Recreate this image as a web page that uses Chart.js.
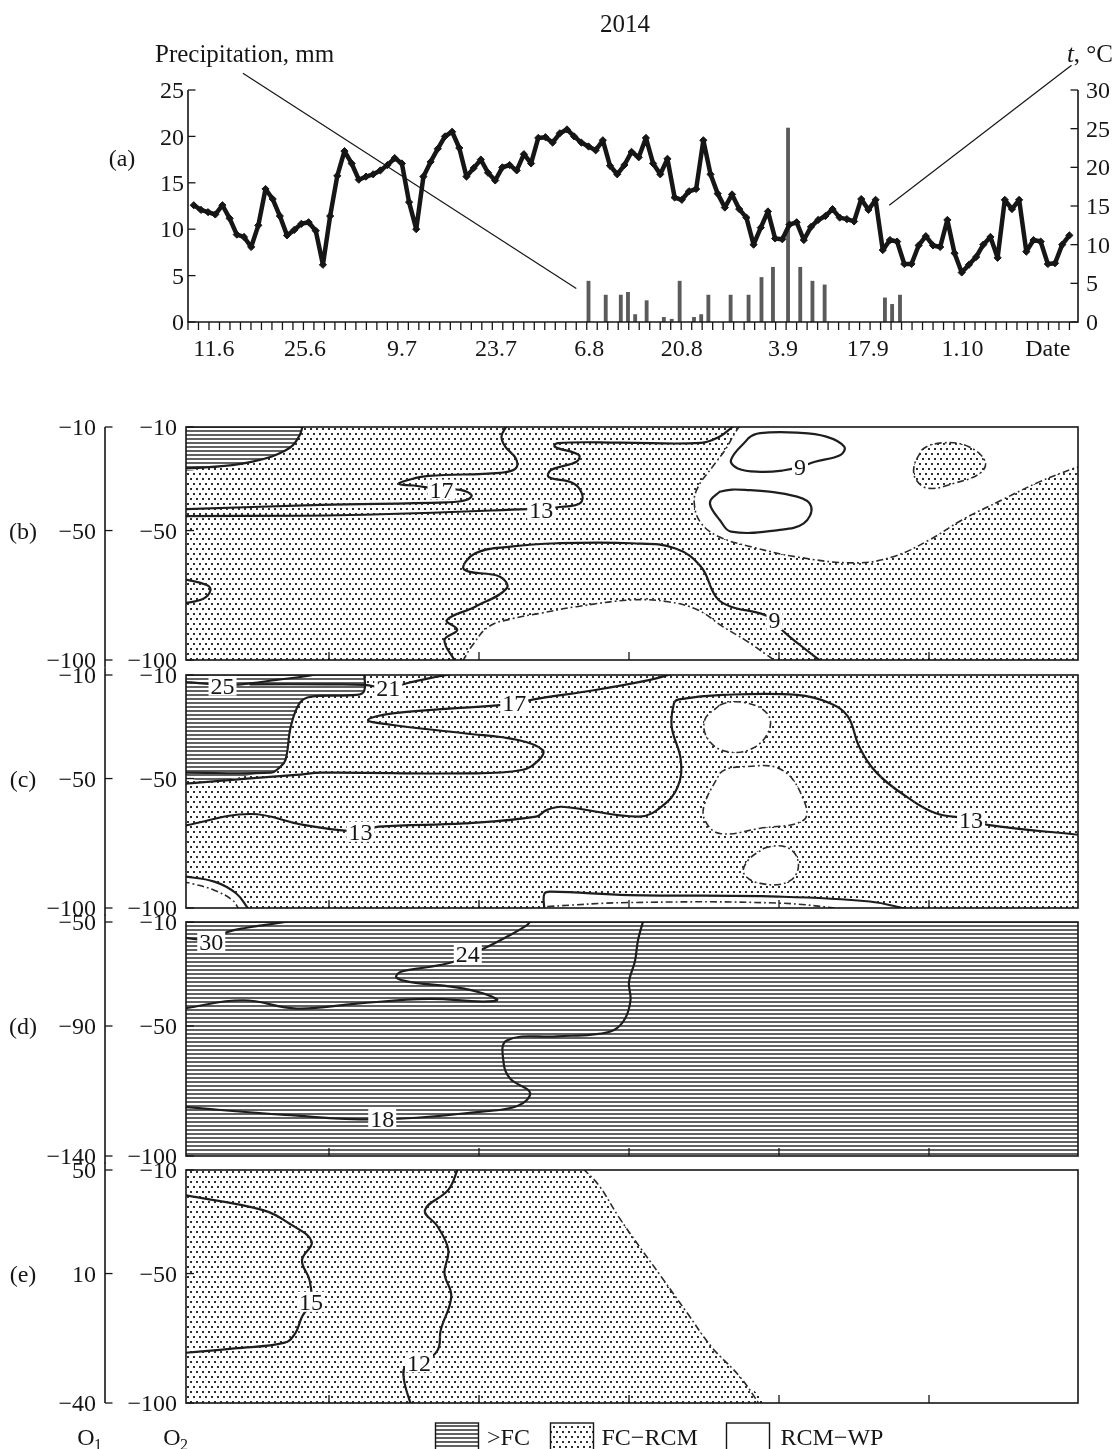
<!DOCTYPE html>
<html>
<head>
<meta charset="utf-8">
<title>2014</title>
<script src="https://cdn.jsdelivr.net/npm/chart.js@4.4.1/dist/chart.umd.min.js"></script>
<style>
  html, body { margin:0; padding:0; background:#ffffff; }
  body { width:1115px; height:1449px; position:relative; overflow:hidden; }
  canvas { position:absolute; left:0; }
</style>
</head>
<body>
<canvas id="chartA" width="1115" height="372" style="top:0px"></canvas>
<canvas id="chartB" width="1115" height="325" style="top:382px"></canvas>
<canvas id="chartC" width="1115" height="325" style="top:630px"></canvas>
<canvas id="chartD" width="1115" height="326" style="top:877px"></canvas>
<canvas id="chartE" width="1115" height="325" style="top:1125px"></canvas>
<script>
// ======================= DATA =======================
// (a) daily air temperature, °C (in order of observation)
const tempC = [
 15.1,14.5,14.2,13.9,15.1,13.4,11.3,11.0,9.7,12.5,
 17.2,15.9,13.7,11.2,11.9,12.7,12.9,11.8,7.4,13.7,
 18.9,22.1,20.5,18.4,18.8,19.1,19.6,20.3,21.2,20.5,
 15.5,12.0,18.8,20.7,22.4,24.0,24.6,22.5,18.8,19.9,
 21.0,19.3,18.3,20.0,20.3,19.6,21.7,20.5,23.8,23.9,
 23.2,24.4,24.9,24.0,23.2,22.7,22.2,23.5,20.2,19.1,
 20.3,22.0,21.3,23.8,20.5,19.1,21.1,16.1,15.8,16.9,
 17.2,23.5,19.1,16.6,14.8,16.5,14.6,13.5,10.0,12.2,
 14.3,10.8,10.7,12.6,12.9,10.6,12.3,13.2,13.7,14.6,
 13.5,13.3,13.0,15.9,14.5,15.8,9.3,10.6,10.4,7.5,
 7.5,9.9,11.1,9.9,9.7,13.2,8.9,6.4,7.4,8.4,
 10.0,11.0,8.3,15.8,14.6,15.8,9.1,10.6,10.4,7.5,
 7.6,10.0,11.2];
// (a) precipitation events: position on the observation axis, amount in mm
const precipPos = [55.0,57.4,59.5,60.5,61.5,63.1,65.5,66.6,67.7,69.7,70.7,71.7,74.8,77.3,79.1,80.7,82.8,84.5,86.2,87.9,96.3,97.3,98.4];
const precipMM  = [4.4,2.9,2.9,3.2,0.8,2.3,0.5,0.3,4.4,0.5,0.8,2.9,2.9,2.9,4.8,5.9,20.9,5.9,4.4,4.0,2.6,1.9,2.9];
const dateLabels   = ['11.6','25.6','9.7','23.7','6.8','20.8','3.9','17.9','1.10','Date'];
const dateLabelPos = [2.8,15.5,29.0,42.1,55.1,68.0,82.1,93.9,107.1,119.0];
const precipTicks = [0,5,10,15,20,25];
const tempTicks   = [0,5,10,15,20,25,30];
// (b)-(e) depth axes
const depthTicks  = [-10,-50,-100];
const outerTicksB = [-10,-50,-100];
const outerTicksC = [-10,-50,-100];
const outerTicksD = [-50,-90,-140];
const outerTicksE = [50,10,-40];
const panelXTicks = [20,40,60,80,100];
const legendLabels = ['>FC','FC\u2212RCM','RCM\u2212WP'];

// ---- panel (b) ----
const b_fc    = [[16.5,-9.5],[16.1,-13.1],[15.2,-17.0],[13.9,-19.5],[12.3,-21.5],[9.8,-23.4],[7.1,-24.7],[3.5,-25.6],[0.5,-26.0]];
const b_iso17 = [[43.7,-9.5],[43.0,-13.7],[43.5,-17.6],[44.9,-22.1],[44.9,-26.0],[42.8,-27.7],[33.3,-28.9],[30.8,-30.3],[29.3,-32.0],[31.3,-32.6],[35.0,-34.0],[37.5,-34.3],[39.0,-36.3],[38.3,-38.2],[35.7,-39.1],[19.0,-40.1],[0.5,-41.8]];
const b_iso13 = [[0.5,-44.4],[22.8,-44.0],[46.5,-41.7],[51.1,-40.8],[53.5,-39.4],[53.7,-35.5],[52.5,-31.6],[49.3,-29.3],[49.6,-26.6],[53.0,-23.4],[53.3,-20.8],[50.1,-17.6],[50.5,-16.2],[58.8,-16.0],[69.6,-16.1],[72.1,-13.7],[73.6,-10.4],[74.0,-9.5]];
const b_bump  = [[0.3,-68.5],[3.7,-71.0],[4.2,-73.0],[3.3,-76.2],[0.3,-78.4]];
const b_iso9  = [[36.8,-100.5],[35.4,-92.3],[37.1,-88.4],[35.7,-84.6],[39.5,-79.4],[43.7,-72.3],[42.8,-67.8],[38.0,-65.0],[39.5,-58.8],[44.2,-56.2],[50.4,-54.9],[60.4,-54.9],[66.2,-56.9],[69.6,-64.0],[71.6,-75.6],[73.6,-79.4],[77.5,-82.0],[79.4,-84.6],[80.4,-88.4],[82.8,-94.2],[85.6,-100.5]];
const b_loopA = [[73.6,-22.7],[75.9,-14.4],[77.5,-12.4],[82.4,-12.2],[86.3,-13.7],[88.7,-17.6],[88.2,-20.8],[84.8,-23.4],[82.8,-25.4],[80.5,-26.8],[77.5,-27.3],[74.5,-26.0]];
const b_loopB = [[70.9,-38.2],[72.1,-35.0],[75.5,-34.3],[82.4,-36.9],[84.3,-40.8],[83.3,-47.2],[79.9,-49.8],[73.6,-50.4],[72.1,-45.9],[70.9,-40.8]];
const b_ddTop = [[74.8,-9.5],[74.2,-12.0],[72.8,-18.9],[71.1,-25.5],[69.2,-33.2],[68.7,-39.4],[69.6,-47.1],[72.1,-52.5],[76.5,-56.4],[82.4,-60.2],[90.1,-62.5],[95.1,-60.2],[100.0,-53.7],[104.4,-45.9],[109.7,-38.2],[114.7,-31.2],[119.1,-26.2],[120.5,-25.0]];
const b_blob  = [[98.0,-25.3],[99.0,-18.9],[101.9,-16.1],[105.3,-17.6],[107.5,-23.4],[106.8,-27.9],[103.4,-31.7],[100.0,-33.7],[98.3,-30.5]];
const b_ddBot = [[37.8,-100.5],[39.2,-94.0],[41.3,-87.1],[44.5,-84.0],[48.1,-82.0],[53.0,-79.4],[60.4,-76.8],[65.2,-77.5],[69.2,-80.7],[72.5,-87.1],[75.5,-92.3],[78.4,-98.1],[79.6,-100.5]];
const b_labels = [['17',35.0,-34.2],['13',48.3,-42.0],['9',82.8,-25.4],['9',79.4,-84.6]];

// ---- panel (c) ----
const c_fc    = [[24.7,-9.5],[24.7,-16.0],[23.7,-17.7],[17.6,-18.4],[16.1,-20.8],[14.9,-30.0],[14.2,-42.8],[13.3,-46.0],[12.3,-47.7],[0.5,-47.7]];
const c_iso25 = [[0.5,-12.6],[3.5,-13.3],[7.1,-13.8],[9.5,-13.2],[13.0,-11.9],[17.1,-10.4],[18.5,-9.5]];
const c_iso21 = [[9.5,-13.6],[20.0,-13.6],[24.7,-13.8],[27.8,-15.0],[30.5,-13.1],[33.3,-11.3],[36.5,-9.5]];
const c_iso17 = [[65.8,-9.5],[62.8,-11.9],[55.5,-15.8],[48.1,-19.0],[44.7,-20.9],[42.8,-21.6],[28.5,-24.8],[25.2,-27.4],[28.5,-29.3],[38.0,-32.5],[45.2,-35.1],[48.5,-39.0],[48.0,-42.8],[45.7,-46.7],[38.0,-48.0],[19.0,-47.7],[15.6,-48.6],[9.5,-49.9],[0.5,-52.1]];
const c_iso13 = [[0.5,-68.3],[9.5,-63.7],[16.6,-67.9],[24.2,-70.5],[26.6,-68.6],[38.0,-67.3],[47.6,-64.7],[49.0,-62.2],[51.1,-60.9],[61.3,-64.7],[64.3,-60.9],[66.5,-53.2],[66.9,-42.8],[65.7,-30.0],[66.0,-20.9],[66.7,-19.4],[72.5,-17.7],[82.4,-17.7],[86.8,-20.9],[89.2,-26.1],[90.7,-37.7],[93.1,-48.0],[97.0,-57.0],[100.9,-63.4],[105.6,-65.6],[107.8,-67.9],[120.5,-71.9]];
const c_blob1 = [[70.1,-27.4],[72.1,-21.6],[75.5,-20.7],[78.4,-24.8],[78.7,-31.2],[76.5,-38.3],[73.1,-39.6],[70.6,-35.1]];
const c_blob2 = [[70.1,-59.6],[72.1,-48.0],[75.5,-45.4],[80.4,-46.7],[83.3,-58.3],[83.3,-66.0],[77.5,-69.2],[72.1,-71.2],[70.1,-66.0]];
const c_blob3 = [[75.9,-81.5],[78.0,-76.9],[81.3,-76.9],[82.6,-83.4],[81.3,-89.8],[77.5,-90.5],[75.3,-86.6]];
const c_botLine = [[48.7,-100.5],[48.7,-94.6],[49.5,-93.7],[59.9,-95.0],[79.9,-95.6],[92.1,-97.5],[97.2,-100.5]];
const c_botDD   = [[49.1,-99.4],[59.9,-97.9],[79.9,-98.1],[89.2,-100.5]];
const c_blLine  = [[0.5,-87.7],[4.7,-89.8],[7.6,-94.3],[9.3,-100.5]];
const c_blDD    = [[0.5,-89.9],[1.9,-90.7],[4.7,-93.1],[7.1,-96.9],[8.0,-100.5]];
const c_labels = [['25',5.8,-14.1],['21',27.9,-15.0],['17',44.7,-20.9],['13',24.2,-70.5],['13',105.6,-65.8]];

// ---- panel (d) ----
const d_iso30 = [[0.5,-16.0],[4.3,-16.8],[6.5,-13.8],[9.0,-12.2],[11.1,-11.3],[13.5,-10.3],[15.0,-9.5]];
const d_iso24 = [[46.9,-9.5],[46.4,-11.2],[43.7,-15.7],[40.4,-20.5],[38.5,-22.1],[36.6,-25.3],[33.3,-27.3],[29.5,-29.2],[29.0,-31.4],[30.9,-33.1],[38.0,-35.6],[42.4,-39.8],[40.5,-40.6],[33.3,-39.6],[23.7,-41.4],[15.7,-43.3],[8.5,-40.1],[0.5,-43.3]];
const d_iso18 = [[0.5,-81.1],[14.2,-84.2],[27.1,-85.9],[40.4,-82.9],[45.2,-80.7],[46.8,-75.6],[44.2,-70.4],[43.3,-64.6],[43.7,-55.6],[50.4,-54.0],[55.0,-53.3],[58.0,-51.5],[59.5,-47.0],[60.2,-40.0],[60.0,-33.0],[60.8,-25.0],[61.2,-17.0],[61.9,-9.5]];
const d_labels = [['30',4.3,-17.5],['24',38.5,-22.3],['18',27.1,-85.8]];

// ---- panel (e) ----
const e_dd    = [[53.9,-9.5],[56.0,-16.0],[58.6,-28.0],[61.5,-40.0],[64.3,-51.2],[67.7,-65.0],[71.0,-78.3],[74.8,-89.9],[77.4,-100.5]];
const e_iso15 = [[0.5,-19.6],[11.2,-25.5],[15.0,-31.2],[17.7,-37.7],[16.4,-44.8],[17.4,-52.5],[17.6,-60.9],[16.4,-66.7],[15.5,-73.1],[14.1,-76.7],[7.4,-78.9],[0.5,-80.7]];
const e_iso12 = [[37.2,-9.5],[35.9,-17.7],[32.8,-25.5],[34.5,-31.9],[35.9,-40.9],[35.4,-49.9],[36.3,-58.9],[34.9,-71.8],[34.5,-79.5],[32.5,-84.1],[30.2,-86.0],[30.0,-91.1],[30.9,-100.5]];
const e_labels = [['15',17.6,-60.9],['12',32.0,-84.3]];

// ======================= STYLE / HELPERS =======================
const INK = '#161616';
const FONT = "'Liberation Serif','Times New Roman','DejaVu Serif',serif";
const PX_MIN = 0.933, PX_MAX = 119.867;         // panel x range
const OUT = { TL:[-6,0], TR:[126,0], BL:[-6,-110], BR:[126,-110] }; // closing points outside the frame
const dateTickStep = 1.462;

const hatchTile = (() => { const c = document.createElement('canvas'); c.width = 8; c.height = 4;
  const g = c.getContext('2d'); g.fillStyle = '#fff'; g.fillRect(0,0,8,4); g.fillStyle = '#626262'; g.fillRect(0,0,8,2); return c; })();
const dotTile = (() => { const c = document.createElement('canvas'); c.width = 6; c.height = 10;
  const g = c.getContext('2d'); g.fillStyle = '#fff'; g.fillRect(0,0,6,10); g.fillStyle = '#2e2e2e';
  g.fillRect(1,1,2,2); g.fillRect(4,6,2,2); return c; })();
function pats(canvas) { const ctx = canvas.getContext('2d');
  return { hatch: ctx.createPattern(hatchTile,'repeat'), dots: ctx.createPattern(dotTile,'repeat') }; }

const P = a => a.map(p => ({x:p[0], y:p[1]}));
const closeLoop = a => [...a, a[0], a[1]];
const fmt = v => v < 0 ? '\u2212' + (-v) : String(v);

function lineDS(arr, o) { return Object.assign({ data:P(arr), borderColor:'#1e1e1e', borderWidth:2.2, tension:0.4, fill:false,
  pointRadius:0, order:10, borderCapStyle:'round', borderJoinStyle:'round' }, o || {}); }
function ddDS(arr, o) { return lineDS(arr, Object.assign({ borderDash:[7,3,1.8,3], borderWidth:1.6, borderColor:'#2c2c2c', borderCapStyle:'butt', order:11 }, o || {})); }
function regionDS(arr, bg, order) { return { data:P(arr), backgroundColor:bg, borderWidth:0, fill:'shape', tension:0.4, pointRadius:0, order }; }
const hideFirst = { borderColor: c => c.p0DataIndex === 0 ? 'rgba(0,0,0,0)' : undefined };
function loopDS(arr, o) { return lineDS(closeLoop(arr), Object.assign({ segment: hideFirst }, o || {})); }

function txt(ctx, s, x, y, align, size, style) {
  ctx.font = (style ? style + ' ' : '') + (size || 24) + 'px ' + FONT;
  ctx.textAlign = align || 'left'; ctx.textBaseline = 'alphabetic'; ctx.fillStyle = INK;
  ctx.fillText(s, x, y);
}
function txtMid(ctx, s, x, yMid, align, size) { size = size || 24; txt(ctx, s, x, yMid + size * 0.34, align, size); }
function rich(ctx, parts, x, y, align, size) {
  let w = 0;
  parts.forEach(([t, st]) => { ctx.font = (st ? st + ' ' : '') + size + 'px ' + FONT; w += ctx.measureText(t).width; });
  let cx = align === 'right' ? x - w : (align === 'center' ? x - w / 2 : x);
  parts.forEach(([t, st]) => { txt(ctx, t, cx, y, 'left', size, st); ctx.font = (st ? st + ' ' : '') + size + 'px ' + FONT; cx += ctx.measureText(t).width; });
}
function seg(ctx, x1, y1, x2, y2) { ctx.beginPath(); ctx.moveTo(x1, y1); ctx.lineTo(x2, y2); ctx.stroke(); }

// ======================= (a) =======================
const precipLeader = [[6.85, 26.8], [53.3, 3.6]];
const tempLeader = [[122.3, 33.2], [96.9, 15.1]];
const axesA = {
  id: 'axesA',
  afterDraw(chart) {
    const { ctx, chartArea: a, scales: { x, yP, yT } } = chart;
    ctx.save();
    ctx.strokeStyle = INK; ctx.lineWidth = 1.6;
    ctx.beginPath(); ctx.moveTo(a.left, a.top); ctx.lineTo(a.left, a.bottom); ctx.lineTo(a.right, a.bottom); ctx.lineTo(a.right, a.top); ctx.stroke();
    ctx.lineWidth = 1.3;
    precipTicks.forEach(v => { const py = yP.getPixelForValue(v); seg(ctx, a.left, py, a.left + 7.5, py); txtMid(ctx, String(v), a.left - 4, py, 'right'); });
    tempTicks.forEach(v => { const py = yT.getPixelForValue(v); seg(ctx, a.right - 7.5, py, a.right, py); txtMid(ctx, String(v), a.right + 8, py, 'left'); });
    for (let v = x.min; v <= x.max + 1e-9; v += dateTickStep) { const px = x.getPixelForValue(v); seg(ctx, px, a.bottom, px, a.bottom + 8); }
    dateLabels.forEach((s, i) => txt(ctx, s, x.getPixelForValue(dateLabelPos[i]), 356, 'center', 24));
    // leaders
    ctx.lineWidth = 1.2;
    seg(ctx, x.getPixelForValue(precipLeader[0][0]), yP.getPixelForValue(precipLeader[0][1]), x.getPixelForValue(precipLeader[1][0]), yP.getPixelForValue(precipLeader[1][1]));
    seg(ctx, x.getPixelForValue(tempLeader[0][0]), yT.getPixelForValue(tempLeader[0][1]), x.getPixelForValue(tempLeader[1][0]), yT.getPixelForValue(tempLeader[1][1]));
    txt(ctx, '2014', 625, 32, 'center', 25);
    txt(ctx, 'Precipitation, mm', 155, 62, 'left', 25);
    rich(ctx, [['t', 'italic'], [', \u00b0C', '']], 1113, 62, 'right', 25);
    txtMid(ctx, '(a)', 122, 158, 'center', 24);
    ctx.restore();
  }
};
new Chart(document.getElementById('chartA'), {
  type: 'line',
  data: { datasets: [
    { type: 'line', label: 't, \u00b0C', data: tempC.map((t, i) => ({ x: i, y: t })), yAxisID: 'yT', borderColor: INK, borderWidth: 4.5,
      borderJoinStyle: 'round', pointStyle: 'rectRot', pointRadius: 3.6, pointBackgroundColor: INK, pointBorderColor: INK, pointBorderWidth: 1, tension: 0, order: 0 },
    { type: 'bar', label: 'Precipitation, mm', data: precipPos.map((p, i) => ({ x: p, y: precipMM[i] })), yAxisID: 'yP',
      backgroundColor: '#5b5b5b', barThickness: 3.2, order: 1 }
  ] },
  options: {
    responsive: false, animation: false, devicePixelRatio: 1, events: [],
    layout: { padding: { left: 188, right: 37, top: 90, bottom: 50 } },
    scales: {
      x: { type: 'linear', min: -0.8, max: 123.2, offset: false, display: false },
      yP: { type: 'linear', position: 'left', min: 0, max: 25, display: false },
      yT: { type: 'linear', position: 'right', min: 0, max: 30, display: false }
    },
    plugins: { legend: { display: false }, tooltip: { enabled: false } }
  },
  plugins: [axesA]
});

// ======================= (b)-(e) =======================
const PANELS = {};
const panelDecor = {
  id: 'panelDecor',
  beforeDatasetsDraw(chart) {
    const s = PANELS[chart.canvas.id]; const { ctx, chartArea: a } = chart;
    if (s.base) { ctx.save(); ctx.fillStyle = s.base; ctx.fillRect(a.left, a.top, a.right - a.left, a.bottom - a.top); ctx.restore(); }
  },
  afterDatasetsDraw(chart) {
    const s = PANELS[chart.canvas.id]; const { ctx, chartArea: a, scales: { x, y, yOuter } } = chart;
    ctx.save();
    s.labels.forEach(([t, lx, ly]) => {
      const px = x.getPixelForValue(lx), py = y.getPixelForValue(ly);
      ctx.font = '24px ' + FONT; const w = ctx.measureText(t).width;
      ctx.fillStyle = '#fff'; ctx.fillRect(px - w / 2 - 2, py - 10, w + 4, 20);
      txtMid(ctx, t, px, py, 'center', 24);
    });
    ctx.strokeStyle = INK; ctx.lineWidth = 1.6;
    ctx.strokeRect(a.left, a.top, a.right - a.left, a.bottom - a.top);
    ctx.lineWidth = 1.3;
    panelXTicks.forEach(v => { const px = x.getPixelForValue(v); seg(ctx, px, a.bottom, px, a.bottom - 8); });
    depthTicks.forEach(v => { const py = y.getPixelForValue(v); seg(ctx, a.left, py, a.left + 8, py); txtMid(ctx, fmt(v), a.left - 9, py, 'right'); });
    const top = s.first ? a.top : a.top - 7.5, bot = s.last ? a.bottom : a.bottom + 7.5;
    ctx.lineWidth = 1.6; seg(ctx, 105, top, 105, bot); ctx.lineWidth = 1.3;
    s.outer.forEach(v => { const py = yOuter.getPixelForValue(v); seg(ctx, 105, py, 112.5, py); txtMid(ctx, fmt(v), 96, py, 'right'); });
    txtMid(ctx, s.letter, 23, y.getPixelForValue(-50), 'center', 24);
    if (s.extra) s.extra(ctx, chart);
    ctx.restore();
  }
};
function makePanel(id, spec, datasets, padBottom) {
  PANELS[id] = spec;
  const om = spec.outer;
  return new Chart(document.getElementById(id), {
    type: 'line',
    data: { datasets },
    options: {
      responsive: false, animation: false, devicePixelRatio: 1, events: [],
      layout: { padding: { left: 186, right: 37, top: 45, bottom: padBottom } },
      elements: { line: { capBezierPoints: false }, point: { radius: 0 } },
      scales: {
        x: { type: 'linear', min: PX_MIN, max: PX_MAX, display: false },
        y: { type: 'linear', min: -100, max: -10, display: false },
        yOuter: { type: 'linear', position: 'left', min: Math.min(...om), max: Math.max(...om), display: false }
      },
      plugins: { legend: { display: false }, tooltip: { enabled: false } }
    },
    plugins: [panelDecor]
  });
}

// (b)
(() => {
  const cv = document.getElementById('chartB'); const p = pats(cv);
  makePanel('chartB', { base: p.dots, labels: b_labels, outer: outerTicksB, letter: '(b)', first: true,
    extra(ctx) { rich(ctx, [['h', 'italic'], [', cm', '']], 54, 400, 'left', 25); } }, [
    regionDS([...b_ddTop, OUT.TR], '#ffffff', 60),
    regionDS(b_ddBot, '#ffffff', 60),
    loopDS(b_blob, { fill: 'shape', backgroundColor: p.dots, borderDash: [7,3,1.8,3], borderWidth: 1.6, borderColor: '#2c2c2c', borderCapStyle: 'butt', order: 50 }),
    regionDS([...b_fc, OUT.TL], p.hatch, 40),
    lineDS(b_fc), lineDS(b_iso17), lineDS(b_iso13), lineDS(b_bump), lineDS(b_iso9),
    loopDS(b_loopA), loopDS(b_loopB),
    ddDS(b_ddTop), ddDS(b_ddBot)
  ], 47);
})();

// (c)
(() => {
  const cv = document.getElementById('chartC'); const p = pats(cv);
  const blob = arr => loopDS(arr, { fill: 'shape', backgroundColor: '#ffffff', borderDash: [7,3,1.8,3], borderWidth: 1.6, borderColor: '#2c2c2c', borderCapStyle: 'butt', order: 50 });
  makePanel('chartC', { base: p.dots, labels: c_labels, outer: outerTicksC, letter: '(c)' }, [
    regionDS(c_botLine, '#ffffff', 60),
    regionDS([...c_blLine, OUT.BL], '#ffffff', 60),
    blob(c_blob1), blob(c_blob2), blob(c_blob3),
    regionDS([...c_fc, OUT.TL], p.hatch, 40),
    lineDS(c_fc), lineDS(c_iso25), lineDS(c_iso21), lineDS(c_iso17), lineDS(c_iso13), lineDS(c_botLine), lineDS(c_blLine),
    ddDS(c_botDD), ddDS(c_blDD)
  ], 47);
})();

// (d)
(() => {
  const cv = document.getElementById('chartD'); const p = pats(cv);
  makePanel('chartD', { base: p.hatch, labels: d_labels, outer: outerTicksD, letter: '(d)' }, [
    lineDS(d_iso30), lineDS(d_iso24), lineDS(d_iso18)
  ], 47);
})();

// (e)
(() => {
  const cv = document.getElementById('chartE'); const p = pats(cv);
  makePanel('chartE', { base: null, labels: e_labels, outer: outerTicksE, letter: '(e)', last: true,
    extra(ctx, chart) {
      const a = chart.chartArea; const yb = a.bottom;
      // O1, O2
      txt(ctx, 'O', 86, yb + 42, 'center', 24); txt(ctx, '1', 98, yb + 47, 'center', 16);
      txt(ctx, 'O', 172, yb + 42, 'center', 24); txt(ctx, '2', 184, yb + 47, 'center', 16);
      // legend
      const boxes = [[435.5, p.hatch], [550.5, p.dots], [726.5, '#ffffff']];
      const textX = [487, 601.5, 780.5];
      boxes.forEach(([bx, fillS], i) => {
        ctx.fillStyle = fillS; ctx.fillRect(bx, yb + 20, 43, 30);
        ctx.strokeStyle = INK; ctx.lineWidth = 1.4; ctx.strokeRect(bx, yb + 20, 43, 30);
        txt(ctx, legendLabels[i], textX[i], yb + 42, 'left', 24);
      });
    } }, [
    regionDS([...e_dd, OUT.BL, OUT.TL], p.dots, 50),
    lineDS(e_iso15), lineDS(e_iso12),
    ddDS(e_dd)
  ], 47);
})();
</script>
</body>
</html>
